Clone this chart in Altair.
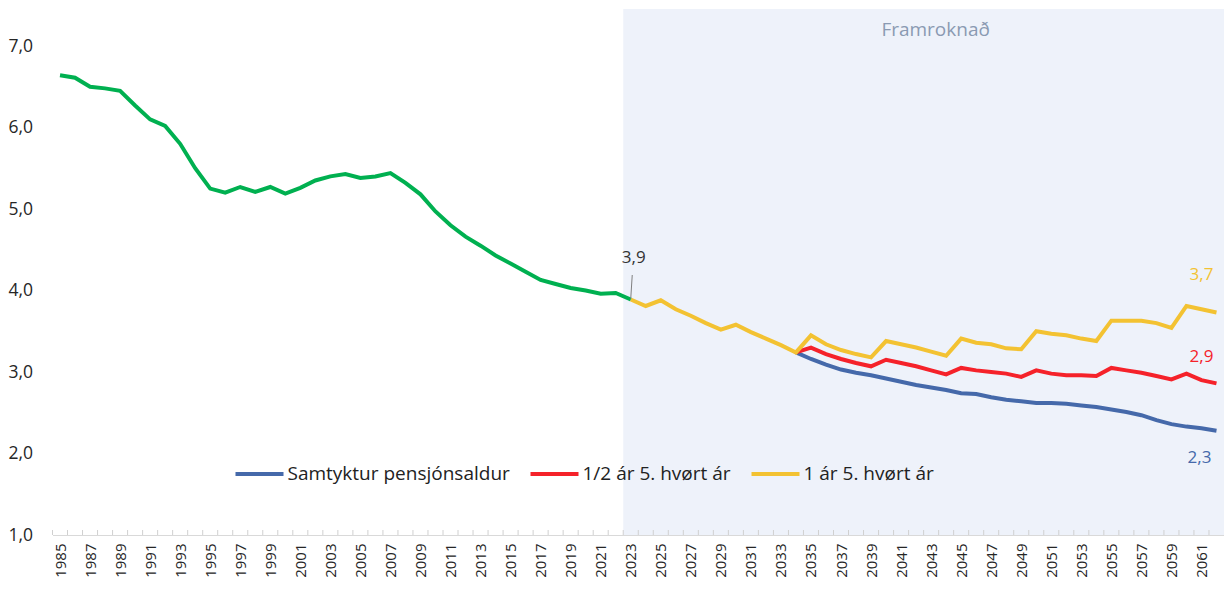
import altair as alt
import pandas as pd

# ---------------- data ----------------
hist_years = list(range(1985, 2024))
hist_vals = [6.64, 6.61, 6.50, 6.48, 6.45, 6.27, 6.10, 6.02, 5.80, 5.50,
             5.25, 5.20, 5.27, 5.21, 5.27, 5.19, 5.26, 5.35, 5.40, 5.43,
             5.38, 5.40, 5.44, 5.32, 5.18, 4.97, 4.80, 4.66, 4.55, 4.43,
             4.33, 4.23, 4.13, 4.08, 4.03, 4.00, 3.96, 3.97, 3.89]

yellow_years = list(range(2023, 2063))
yellow_vals = [3.89, 3.81, 3.88, 3.77, 3.69, 3.60, 3.52, 3.58, 3.49, 3.41, 3.33, 3.24,
               3.45, 3.34, 3.27, 3.22, 3.18, 3.38, 3.34, 3.30, 3.25, 3.20,
               3.41, 3.36, 3.34, 3.29, 3.28, 3.50, 3.47, 3.45, 3.41, 3.38,
               3.63, 3.63, 3.63, 3.60, 3.54, 3.81, 3.77, 3.73]

split_years = list(range(2034, 2063))
red_vals = [3.24, 3.30, 3.22, 3.16, 3.11, 3.07, 3.15, 3.11, 3.07, 3.02, 2.97,
            3.05, 3.02, 3.00, 2.98, 2.94, 3.02, 2.98, 2.96, 2.96, 2.95,
            3.05, 3.02, 2.99, 2.95, 2.91, 2.98, 2.90, 2.86]
blue_vals = [3.24, 3.16, 3.09, 3.03, 2.99, 2.96, 2.92, 2.88, 2.84, 2.81, 2.78,
             2.74, 2.73, 2.69, 2.66, 2.64, 2.62, 2.62, 2.61, 2.59, 2.57,
             2.54, 2.51, 2.47, 2.41, 2.36, 2.33, 2.31, 2.28]

series_names = ["Samtyktur pensjónsaldur", "1/2 ár 5. hvørt ár", "1 ár 5. hvørt ár"]
series_colors = ["#4569AA", "#F5222A", "#F3C232"]
hist_color = "#00B050"

x_label_years = list(range(1985, 2062, 2))
tick_edges = [y - 0.5 for y in range(1985, 2063)]
y_ticks = [1, 2, 3, 4, 5, 6, 7]

band_start = [2022.5]
band_end = [2062.5]
band_label = ["Framroknað"]
band_label_year = [2043.3]

# ---------------- layout ----------------
W = 1171.5
H = 526
PX_PER_UNIT = 81.5
X0, X1 = 1984.5, 2062.5
YMIN, YMAX = 1.0, 1.0 + H / PX_PER_UNIT
FONT = "Open Sans"

xscale = alt.Scale(domain=[X0, X1], nice=False, zero=False)
yscale = alt.Scale(domain=[YMIN, YMAX], nice=False, zero=False)

x_axis = alt.Axis(
    values=x_label_years, format="d", labelAngle=-90, ticks=False, tickSize=0,
    grid=False, domain=True, domainColor="#D9D9D9", domainWidth=1,
    labelFont=FONT, labelFontSize=15, labelColor="#262626", labelPadding=8,
    labelOverlap=False, labelFlush=False, title=None)
y_axis = alt.Axis(
    values=y_ticks, labelExpr="replace(format(datum.value, '.1f'), '.', ',')",
    ticks=False, tickSize=0, domain=False, grid=False, labelAlign="left",
    labelPadding=44.5, labelFont=FONT, labelFontSize=17.5, labelColor="#262626",
    labelFlush=False, labelOverlap=False, title=None)


def X(field):
    return alt.X(field, scale=xscale, axis=x_axis)


def Y(field):
    return alt.Y(field, scale=yscale, axis=y_axis)


def fmt(v):
    return f"{v:.1f}".replace(".", ",")


band = alt.Chart(pd.DataFrame({"start": band_start, "end": band_end})).mark_rect(
    color="#EEF2FA"
).encode(
    x=X("start:Q"),
    x2="end:Q",
    y=alt.value(0),
    y2=alt.value(H),
)

band_text = alt.Chart(pd.DataFrame({"year": band_label_year, "label": band_label})).mark_text(
    font=FONT, fontSize=19, color="#8A9AB2", baseline="middle"
).encode(
    x=X("year:Q"),
    y=alt.value(21),
    text="label:N",
)

ticks = alt.Chart(pd.DataFrame({"edge": tick_edges})).mark_rule(
    color="#D0D0D0", strokeWidth=1
).encode(
    x=X("edge:Q"),
    y=alt.value(H),
    y2=alt.value(H - 5),
)

hist_df = pd.DataFrame({"year": hist_years, "value": hist_vals})
hist_line = alt.Chart(hist_df).mark_line(color=hist_color, strokeWidth=4).encode(
    x=X("year:Q"),
    y=Y("value:Q"),
)

proj_df = pd.concat([
    pd.DataFrame({"year": split_years, "value": blue_vals, "series": series_names[0]}),
    pd.DataFrame({"year": split_years, "value": red_vals, "series": series_names[1]}),
    pd.DataFrame({"year": yellow_years, "value": yellow_vals, "series": series_names[2]}),
], ignore_index=True)

proj_lines = alt.Chart(proj_df).mark_line(strokeWidth=4).encode(
    x=X("year:Q"),
    y=Y("value:Q"),
    color=alt.Color("series:N", scale=alt.Scale(domain=series_names, range=series_colors),
                    legend=alt.Legend(
                        orient="none", legendX=181, legendY=439, direction="horizontal",
                        title=None, symbolType="stroke", symbolSize=2304,
                        symbolStrokeWidth=4, labelFont=FONT, labelFontSize=19,
                        labelColor="#222222", columnPadding=12, labelOffset=2,
                        labelLimit=400, padding=0)),
)

last_df = pd.DataFrame({"year": [hist_years[-1]], "value": [hist_vals[-1]],
                        "label": [fmt(hist_vals[-1])]})
hist_label = alt.Chart(last_df).mark_text(
    font=FONT, fontSize=17, color="#333333", dx=3, dy=-41
).encode(
    x=X("year:Q"),
    y=Y("value:Q"),
    text="label:N",
)
leader = alt.Chart(last_df).transform_calculate(
    y1="datum.value + 0.01", y2="datum.value + 0.30", x2="datum.year + 0.1"
).mark_rule(color="#7F7F7F", strokeWidth=1).encode(
    x=X("year:Q"),
    x2="x2:Q",
    y=Y("y1:Q"),
    y2="y2:Q",
)

end_specs = [
    (yellow_years[-1], yellow_vals[-1], series_colors[2], -15, -38),
    (split_years[-1], red_vals[-1], series_colors[1], -15, -26),
    (split_years[-1], blue_vals[-1], series_colors[0], -17, 27),
]
end_layers = []
for yr, val, col, dx, dy in end_specs:
    d = pd.DataFrame({"year": [yr], "value": [val], "label": [fmt(val)]})
    end_layers.append(alt.Chart(d).mark_text(
        font=FONT, fontSize=17, color=col, dx=dx, dy=dy
    ).encode(
        x=X("year:Q"),
        y=Y("value:Q"),
        text="label:N",
    ))

top_rule = alt.Chart(pd.DataFrame({"k": [0]})).mark_rule(color="#000000", strokeWidth=2).encode(
    x=alt.value(-50), x2=alt.value(W + 10), y=alt.value(-2)
)

chart = alt.layer(
    band, band_text, ticks, proj_lines, hist_line, leader, hist_label, *end_layers, top_rule
).properties(
    width=W, height=H,
    padding={"left": 44.5, "top": 1, "right": 0, "bottom": 46},
    autosize="none",
    background="white",
).configure_view(stroke=None)

chart.save("out.html", embed_options={"renderer": "svg", "actions": False})
